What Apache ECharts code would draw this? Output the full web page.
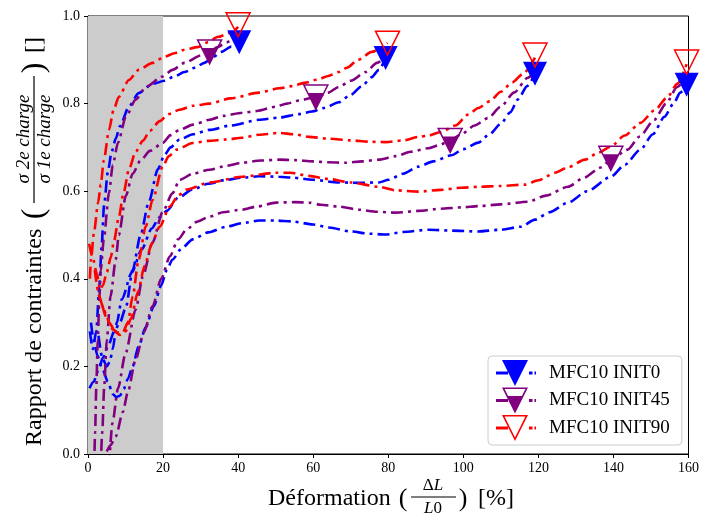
<!DOCTYPE html>
<html><head><meta charset="utf-8">
<script src="https://cdn.jsdelivr.net/npm/echarts@6/dist/echarts.min.js"></script>
<style>html,body{margin:0;padding:0;background:#fff}#c{width:702px;height:521px}</style>
</head><body><div id="c"></div>
<script>
// ---------- data ----------
const xTicks = [0, 20, 40, 60, 80, 100, 120, 140, 160];
const yTicks = [0.0, 0.2, 0.4, 0.6, 0.8, 1.0];
const shadeRange = [0, 20];
const seriesNames = ['MFC10 INIT0', 'MFC10 INIT45', 'MFC10 INIT90'];

const blueA = [[0.5,0.28],[1.3,0.24],[2.2,0.28],[3,0.38],[3.6,0.47],[4.3,0.57],[5.3,0.645],[6.3,0.69],[7.4,0.72],[8.5,0.748],[10.9,0.793],[13.5,0.824],[17.2,0.845],[20.4,0.852],[23,0.862],[25.7,0.872],[28.5,0.882],[31,0.893],[33.5,0.907],[35.5,0.918],[38.2,0.93],[40.3,0.94]];
const blueB = [[0.4,0.15],[1.5,0.165],[2.7,0.19],[4,0.22],[5.5,0.25],[7,0.28],[8.5,0.3],[10.1,0.335],[11.9,0.42],[14,0.5],[16.2,0.575],[18.6,0.65],[20.4,0.683],[22,0.7],[24.4,0.718],[28,0.73],[32.4,0.74],[38,0.75],[45.6,0.763],[50.9,0.768],[56.2,0.776],[59.7,0.782],[63,0.79],[66.8,0.803],[70,0.82],[73,0.84],[75.5,0.86],[77.5,0.877],[79.3,0.904]];
const blueC = [[2.8,0.27],[3.8,0.22],[5,0.2],[5.8,0.21],[6.6,0.24],[7.7,0.3],[9,0.353],[11.7,0.415],[14.3,0.467],[17,0.515],[19,0.54],[21,0.555],[24,0.585],[27.9,0.604],[32,0.617],[36.9,0.626],[41,0.631],[45.6,0.634],[50.9,0.633],[54.4,0.631],[60,0.626],[66.8,0.62],[72,0.619],[77.5,0.62],[80.1,0.626],[84,0.64],[88,0.656],[92,0.668],[96.8,0.682],[100,0.696],[104,0.711],[107,0.73],[110,0.754],[112.5,0.78],[114.6,0.81],[117,0.84],[119.1,0.868]];
const blueD = [[0.8,0.3],[1.5,0.26],[2.5,0.225],[3.8,0.195],[5.3,0.165],[6.6,0.137],[7.5,0.13],[8.5,0.133],[9.5,0.148],[10.6,0.171],[11.9,0.2],[13.5,0.246],[15.4,0.29],[17.5,0.337],[19.5,0.385],[21,0.42],[22.5,0.444],[25,0.47],[27.9,0.49],[32,0.506],[36.9,0.519],[41,0.527],[45.6,0.533],[50,0.533],[54.4,0.531],[60,0.524],[64.2,0.517],[70,0.508],[75,0.503],[79.3,0.501],[84,0.507],[90.7,0.512],[97,0.51],[104,0.508],[110,0.512],[115.4,0.519],[119.1,0.535],[123,0.552],[127.9,0.574],[133,0.6],[139.3,0.633],[143,0.66],[147.2,0.695],[150.5,0.73],[153.6,0.77],[156,0.8],[157.8,0.825],[159.5,0.843]];

const purpleA = [[1.6,-0.05],[1.9,0.05],[2.2,0.15],[2.6,0.26],[3,0.35],[3.4,0.42],[4.2,0.49],[5.6,0.597],[6.6,0.66],[8,0.711],[10.1,0.77],[12.7,0.809],[15.4,0.838],[19.9,0.862],[22.5,0.877],[25.7,0.893],[30.2,0.91],[32.4,0.918],[34.5,0.929],[37,0.94],[39,0.952]];
const purpleB = [[3.3,-0.05],[3.8,0.05],[4.3,0.15],[5,0.26],[6,0.36],[7.4,0.444],[8.2,0.5],[10.1,0.59],[11.9,0.64],[14,0.67],[16.5,0.692],[19.9,0.71],[22,0.728],[24.4,0.74],[28,0.752],[32.4,0.763],[36,0.772],[41.1,0.779],[45,0.783],[50,0.793],[53,0.8],[56.2,0.807],[60.7,0.815],[64,0.825],[66.8,0.838],[70,0.852],[74,0.872],[77,0.893],[79.3,0.907]];
const purpleC = [[5.6,-0.03],[6.5,0.07],[8,0.15],[10,0.23],[12.7,0.33],[14.6,0.405],[17.2,0.483],[19.9,0.553],[22.5,0.595],[24.4,0.626],[28,0.64],[32.4,0.649],[36.9,0.658],[41.1,0.665],[46,0.67],[50.9,0.672],[55,0.671],[60,0.668],[64,0.666],[68.7,0.665],[73,0.668],[77.5,0.672],[82,0.68],[86,0.69],[90.7,0.698],[93.5,0.705],[96.5,0.716],[99.5,0.73],[103,0.75],[106.6,0.767],[110,0.793],[113.5,0.825],[117.2,0.859],[120,0.885]];
const purpleD = [[4.3,-0.05],[4.8,0.005],[6,0.02],[7.4,0.04],[9.3,0.096],[10.6,0.141],[12.7,0.216],[14.9,0.278],[17.2,0.337],[19.5,0.4],[21.8,0.451],[24,0.49],[26.3,0.513],[29,0.53],[32.4,0.542],[36,0.552],[41.1,0.558],[45,0.565],[50.1,0.574],[55,0.575],[58.9,0.574],[62,0.569],[66.8,0.565],[72,0.558],[77,0.553],[82,0.551],[88,0.555],[94,0.56],[99.5,0.563],[104,0.566],[110,0.57],[117.2,0.576],[122,0.59],[127.9,0.61],[132,0.63],[136.6,0.654],[139.3,0.672],[143.8,0.695],[147,0.725],[150.9,0.763],[154,0.8],[157,0.838],[159.5,0.86]];

const redA = [[0.5,0.4],[0.8,0.444],[1.6,0.506],[2.7,0.574],[3.4,0.615],[4.2,0.67],[5.6,0.74],[6.8,0.785],[8.2,0.815],[10.9,0.854],[13.5,0.877],[17.2,0.893],[20.4,0.907],[23,0.915],[25.7,0.923],[29.2,0.929],[32,0.94],[34.5,0.952],[38.2,0.962],[40,0.975]];
const redB = [[0.3,0.48],[1.2,0.45],[2.4,0.41],[3.2,0.375],[4,0.385],[5,0.415],[6.1,0.45],[6.9,0.485],[8.2,0.54],[9.5,0.597],[10.9,0.65],[12.7,0.69],[14.6,0.715],[16.5,0.738],[19.1,0.76],[21.5,0.776],[24.4,0.786],[28,0.795],[32.4,0.8],[38,0.812],[45.6,0.825],[50.9,0.835],[54.4,0.84],[58,0.848],[61.5,0.856],[64,0.863],[66.8,0.872],[69,0.882],[72,0.9],[75.6,0.918],[79.8,0.938]];
const redC = [[1.8,0.42],[3,0.36],[4,0.335],[4.8,0.32],[5.6,0.3],[7.4,0.278],[9.3,0.278],[10.6,0.3],[11.9,0.36],[13.5,0.444],[15.4,0.52],[17.2,0.58],[19.9,0.656],[21.5,0.68],[23.6,0.695],[27.9,0.71],[32,0.715],[36.9,0.718],[41,0.722],[45.6,0.729],[50.9,0.733],[55,0.73],[58.9,0.724],[64.2,0.72],[70,0.716],[75,0.713],[79.3,0.712],[84,0.716],[88,0.724],[90.7,0.727],[94,0.735],[97.9,0.75],[101.3,0.775],[104,0.79],[107,0.805],[110,0.827],[113,0.848],[115.9,0.868],[119.1,0.905]];
const redD = [[3.8,0.34],[5,0.31],[6.5,0.285],[8.5,0.272],[10,0.28],[11.5,0.31],[13.3,0.37],[15.1,0.43],[17,0.48],[19.1,0.519],[21.8,0.565],[24,0.59],[26.3,0.604],[32.4,0.62],[41.1,0.633],[50.1,0.642],[54,0.642],[58.9,0.635],[64,0.628],[70,0.62],[77.5,0.61],[82,0.602],[88,0.599],[94,0.603],[99.5,0.608],[104,0.61],[110,0.612],[116.4,0.615],[120,0.625],[124.4,0.642],[128,0.655],[132.4,0.672],[136,0.688],[139.3,0.702],[143,0.727],[147.2,0.756],[151,0.785],[154.4,0.815],[157,0.845],[159.5,0.89]];

const blueMarkers = [[40.3,0.94],[79.3,0.904],[119.1,0.868],[159.5,0.843]];
const purpleMarkers = [[32.4,0.918],[60.7,0.815],[96.5,0.716],[139.3,0.675]];
const redMarkers = [[40,0.98],[79.8,0.938],[119.1,0.911],[159.5,0.895]];

// ---------- styling ----------
const SERIF = "'Liberation Serif', 'DejaVu Serif', serif";
const TRI = 'path://M0,0L2,0L1,2Z';
const TRI_BOTTOM = 'path://M0,0L2,0M0.35,0.667L1.65,0.667L1,2Z';
const BAR_L = 'M0,11.5L12,11.5L12,14.5L0,14.5Z';
const DASH_R = 'M33,11.5L36.5,11.5L36.5,14.5L33,14.5Z M38.5,11.5L40,11.5L40,14.5L38.5,14.5Z';
const OUTER = 'M6,0L32,0L19,26Z';
const INNER_REV = 'M8.6,1.6L19,22.41L29.4,1.6Z';
const BOTTOM = 'M10.25,8.5L27.75,8.5L19,26Z';
const legendIcons = [
  'path://' + BAR_L + ' ' + OUTER + ' ' + DASH_R,
  'path://' + BAR_L + ' ' + OUTER + ' ' + INNER_REV + ' ' + BOTTOM + ' ' + DASH_R,
  'path://' + BAR_L + ' ' + OUTER + ' ' + INNER_REV + ' ' + DASH_R
];

const groups = [
  {name: seriesNames[0], color: '#0000ff', curves: [blueA, blueB, blueC, blueD], markers: blueMarkers, kind: 'filled'},
  {name: seriesNames[1], color: '#800080', curves: [purpleA, purpleB, purpleC, purpleD], markers: purpleMarkers, kind: 'half'},
  {name: seriesNames[2], color: '#ff0000', curves: [redA, redB, redC, redD], markers: redMarkers, kind: 'hollow'}
];

const series = [];
series.push({
  type: 'line', name: '_shade', data: [[shadeRange[0], 0]], symbol: 'none', silent: true,
  lineStyle: {opacity: 0}, z: 1,
  markArea: {silent: true, itemStyle: {color: '#cccccc'}, data: [[{xAxis: shadeRange[0]}, {xAxis: shadeRange[1]}]]}
});
groups.forEach((g, gi) => {
  g.curves.forEach(c => {
    series.push({
      type: 'line', name: g.name, data: c, symbol: 'none', showSymbol: false,
      smooth: 0.25, smoothMonotone: 'x', silent: true, clip: true,
      itemStyle: {color: g.color},
      lineStyle: {color: g.color, width: 2.6, type: [12, 5, 3, 5], cap: 'butt'},
      z: 2 + gi
    });
  });
});
groups.forEach((g, gi) => {
  if (g.kind === 'filled') {
    series.push({type: 'scatter', name: g.name, data: g.markers, symbol: TRI, symbolSize: [24, 24], clip: false, silent: true,
      itemStyle: {color: g.color, borderWidth: 0, opacity: 1}, z: 10 + gi});
  } else if (g.kind === 'half') {
    series.push({type: 'scatter', name: g.name, data: g.markers, symbol: TRI_BOTTOM, symbolSize: [24, 24], clip: false, silent: true,
      itemStyle: {color: g.color, borderWidth: 0, opacity: 1}, z: 10 + gi});
    series.push({type: 'scatter', name: g.name, data: g.markers, symbol: TRI, symbolSize: [24, 24], clip: false, silent: true,
      itemStyle: {color: 'rgba(0,0,0,0)', borderColor: g.color, borderWidth: 1.5, opacity: 1}, z: 10 + gi});
  } else {
    series.push({type: 'scatter', name: g.name, data: g.markers, symbol: TRI, symbolSize: [24, 24], clip: false, silent: true,
      itemStyle: {color: 'rgba(0,0,0,0)', borderColor: g.color, borderWidth: 1.5, opacity: 1}, z: 10 + gi});
  }
});

const axisCommon = {
  type: 'value',
  axisLine: {show: true, onZero: false, lineStyle: {color: '#000', width: 1}},
  axisTick: {show: true, inside: false, length: 4, lineStyle: {color: '#000', width: 1}},
  splitLine: {show: false},
  axisLabel: {color: '#000', fontFamily: SERIF, fontSize: 14}
};

const txt = (x, y, text, size, opts) => Object.assign({
  type: 'text', x: x, y: y, silent: true,
  style: Object.assign({text: text, fontFamily: SERIF, fontSize: size, fill: '#000', align: 'center', verticalAlign: 'middle'}, (opts && opts.style) || {})
}, opts && opts.rotation !== undefined ? {rotation: opts.rotation} : {});

const R = Math.PI / 2;
const richMath = {
  u: {fontFamily: SERIF, fontSize: 17, fill: '#000'},
  i: {fontFamily: SERIF, fontSize: 17, fontStyle: 'italic', fill: '#000'}
};

const graphic = [
  // x axis title
  txt(268, 499, 'Déformation', 24, {style: {align: 'left'}}),
  txt(403, 499, '(', 26, {}),
  {type: 'text', x: 433, y: 486, silent: true, style: {text: '{u|Δ}{i|L}', rich: richMath, align: 'center', verticalAlign: 'middle'}},
  {type: 'line', silent: true, shape: {x1: 411, y1: 497, x2: 456, y2: 497}, style: {stroke: '#000', lineWidth: 1.2}},
  {type: 'text', x: 433, y: 509, silent: true, style: {text: '{i|L}{u|0}', rich: richMath, align: 'center', verticalAlign: 'middle'}},
  txt(463, 499, ')', 26, {}),
  txt(478, 499, '[%]', 24, {style: {align: 'left'}}),
  // y axis title (rotated)
  txt(35, 446, 'Rapport de contraintes', 24, {rotation: R, style: {align: 'left'}}),
  txt(35, 214, '(', 32, {rotation: R}),
  txt(24, 139, 'σ 2e charge', 19, {rotation: R, style: {fontStyle: 'italic'}}),
  {type: 'line', silent: true, shape: {x1: 34, y1: 203, x2: 34, y2: 76}, style: {stroke: '#000', lineWidth: 1.2}},
  txt(45, 139, 'σ 1e charge', 19, {rotation: R, style: {fontStyle: 'italic'}}),
  txt(35, 68, ')', 32, {rotation: R}),
  txt(35, 45, '[]', 24, {rotation: R})
];

const chart = echarts.init(document.getElementById('c'), null, {renderer: 'canvas'});
chart.setOption({
  animation: false,
  backgroundColor: '#ffffff',
  grid: {left: 88, right: 11, top: 16, bottom: 67, show: true, borderColor: '#000', borderWidth: 1, backgroundColor: 'rgba(0,0,0,0)'},
  xAxis: Object.assign({}, axisCommon, {
    min: xTicks[0], max: xTicks[xTicks.length - 1], interval: xTicks[1] - xTicks[0],
    axisLabel: Object.assign({}, axisCommon.axisLabel, {margin: 7})
  }),
  yAxis: Object.assign({}, axisCommon, {
    min: yTicks[0], max: yTicks[yTicks.length - 1], interval: yTicks[1] - yTicks[0],
    axisLabel: Object.assign({}, axisCommon.axisLabel, {margin: 8, formatter: v => v.toFixed(1)})
  }),
  legend: {
    orient: 'vertical', left: 488, top: 356,
    data: groups.map((g, i) => ({name: g.name, icon: legendIcons[i]})),
    itemWidth: 40, itemHeight: 26, itemGap: 1.5,
    padding: [4, 12, 4, 8],
    backgroundColor: 'rgba(255,255,255,0.8)', borderColor: '#cccccc', borderWidth: 1, borderRadius: 4,
    textStyle: {fontFamily: SERIF, fontSize: 19, color: '#000', padding: [0, 0, 0, 8]},
    itemStyle: {borderWidth: 0},
    selectedMode: false
  },
  graphic: graphic,
  series: series
});
</script>
</body></html>
